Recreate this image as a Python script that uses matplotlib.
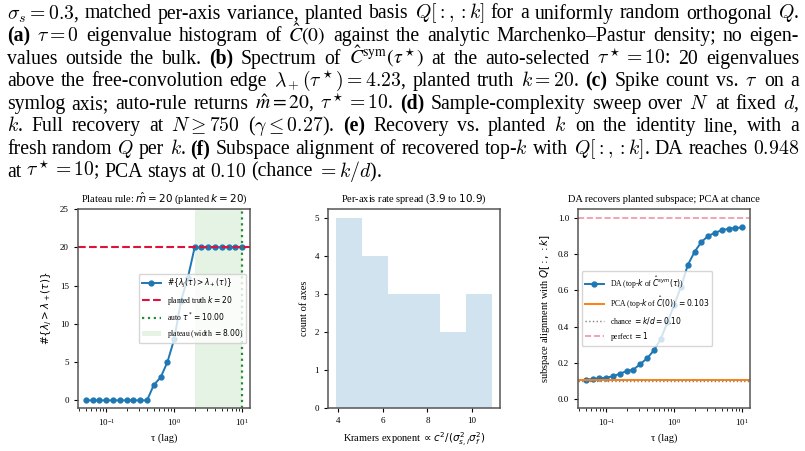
import numpy as np
import matplotlib
matplotlib.use("Agg")
import matplotlib.pyplot as plt

plt.rcParams['font.family'] = 'serif'
plt.rcParams['font.serif'] = ['Liberation Serif', 'DejaVu Serif']
plt.rcParams['axes.edgecolor'] = '#555555'
plt.rcParams['axes.linewidth'] = 1.1
plt.rcParams['xtick.labelsize'] = 6.5
plt.rcParams['ytick.labelsize'] = 6.5
plt.rcParams['xtick.major.size'] = 3
plt.rcParams['ytick.major.size'] = 3

# values
tau = [0.05, 0.063, 0.079, 0.1, 0.126, 0.158, 0.2, 0.251, 0.316, 0.398,
       0.5, 0.631, 0.794, 1.0, 1.259, 1.585, 2.0, 2.512, 3.162, 3.981,
       5.0, 6.31, 7.943, 10.0]
spike_count = [0, 0, 0, 0, 0, 0, 0, 0, 0, 0,
               2, 3, 5, 8, 13, 16, 20, 20, 20, 20,
               20, 20, 20, 20]
k_true = 20
tau_star = 10.0
plateau_lo = 2.0
plateau_hi = 10.0

kramers_edges = [3.9, 5.067, 6.233, 7.4, 8.567, 9.733, 10.9]
kramers_counts = [5, 4, 3, 3, 2, 3]

da_align = [0.107, 0.110, 0.114, 0.118, 0.125, 0.140, 0.154, 0.162, 0.193, 0.224,
            0.268, 0.331, 0.423, 0.52, 0.621, 0.741, 0.814, 0.868, 0.901, 0.919,
            0.932, 0.941, 0.945, 0.948]
pca_align = 0.103
chance = 0.10
perfect = 1.0

caption = [
    r"$\sigma_s=0.3$, matched per-axis variance, planted basis $Q[:,:k]$ for a uniformly random orthogonal $Q$.",
    r"(a) $\tau=0$ eigenvalue histogram of $\hat{C}(0)$ against the analytic Marchenko–Pastur density; no eigen-",
    r"values outside the bulk. (b) Spectrum of $\hat{C}^{\mathrm{sym}}(\tau^\star)$ at the auto-selected $\tau^\star=10$: 20 eigenvalues",
    r"above the free-convolution edge $\lambda_+(\tau^\star)=4.23$, planted truth $k=20$. (c) Spike count vs. $\tau$ on a",
    r"symlog axis; auto-rule returns $\hat{m}=20$, $\tau^\star=10$. (d) Sample-complexity sweep over $N$ at fixed $d$,",
    r"$k$. Full recovery at $N\geq750$ ($\gamma\leq0.27$). (e) Recovery vs. planted $k$ on the identity line, with a",
    r"fresh random $Q$ per $k$. (f) Subspace alignment of recovered top-$k$ with $Q[:,:k]$. DA reaches $0.948$",
    r"at $\tau^\star=10$; PCA stays at $0.10$ (chance $=k/d$).",
]
bold_words = ["(a)", "(b)", "(c)", "(d)", "(e)", "(f)"]

W, H = 805, 451
fig = plt.figure(figsize=(W / 100, H / 100), dpi=100)
renderer = fig.canvas.get_renderer()

# caption, justified like the LaTeX text block
cap_fs = 14.2
x_left, x_right = 7, 799
for i, line in enumerate(caption):
    y = 1 - (18.5 + 22.6 * i) / H
    words = line.split()
    texts = []
    for w in words:
        mfam = 'stix' if r'\hat' in w else 'cm'
        t = fig.text(0, y, w, fontsize=cap_fs, va='baseline', ha='left',
                     family='Liberation Serif', math_fontfamily=mfam,
                     weight='bold' if w in bold_words else 'normal')
        texts.append(t)
    widths = [t.get_window_extent(renderer).width for t in texts]
    if i < len(caption) - 1:
        gap = (x_right - x_left - sum(widths)) / (len(words) - 1)
    else:
        gap = 4.6
    x = x_left
    for t, wd in zip(texts, widths):
        t.set_x(x / W)
        x += wd + gap

lab_fs = 7.5
ax_w = 172 / W
ax_h = 199 / H
ax_b = (H - 408) / H

# (c) spike count vs tau
ax1 = fig.add_axes([78 / W, ax_b, ax_w, ax_h])
ax1.plot(tau, spike_count, 'o-', color='C0', ms=3.5, lw=1.4,
         label=r"$\#\{\lambda_j(\tau) > \lambda_+(\tau)\}$")
ax1.axhline(k_true, color='crimson', ls='--', lw=1.5, label=r"planted truth $k=20$")
ax1.axvline(tau_star, color='#2a8a3a', ls=':', lw=1.6, label=r"auto $\tau^*=10.00$")
ax1.axvspan(plateau_lo, plateau_hi, color='#2ca02c', alpha=0.12, lw=0,
            label=r"plateau (width $=8.00$)")
ax1.set_xscale('log')
ax1.set_ylim(-1, 25)
ax1.set_yticks([0, 5, 10, 15, 20, 25])
ax1.set_xlabel("τ (lag)", fontsize=lab_fs)
ax1.set_ylabel(r"$\#\{\lambda_j > \lambda_+(\tau)\}$", fontsize=lab_fs)
ax1.set_title(r"Plateau rule: $\hat{m}=20$ (planted $k=20$)", fontsize=lab_fs, pad=5)
ax1.legend(loc='center right', fontsize=5.5, handlelength=2.5)

# per-axis rate spread
ax2 = fig.add_axes([328 / W, ax_b, ax_w, ax_h])
ax2.hist(kramers_edges[:-1], bins=kramers_edges, weights=kramers_counts,
         color='C0', alpha=0.2)
ax2.set_xticks([4, 6, 8, 10])
ax2.set_xlabel(r"Kramers exponent $\propto c^2/(\sigma_{s,i}^2\sigma_f^2)$", fontsize=lab_fs)
ax2.set_ylabel("count of axes", fontsize=lab_fs)
ax2.set_title(r"Per-axis rate spread ($3.9$ to $10.9$)", fontsize=lab_fs, pad=5)

# (f) subspace alignment
ax3 = fig.add_axes([578 / W, ax_b, ax_w, ax_h])
ax3.plot(tau, da_align, 'o-', color='C0', ms=3.5, lw=1.4,
         label=r"DA (top-$k$ of $\hat{C}^{sym}(\tau)$)")
ax3.axhline(pca_align, color='C1', lw=1.4, label=r"PCA (top-$k$ of $\hat{C}(0)$) $=0.103$")
ax3.axhline(chance, color='gray', ls=':', lw=1.0, label=r"chance $=k/d=0.10$")
ax3.axhline(perfect, color='crimson', alpha=0.45, ls='--', lw=1.2, label=r"perfect $=1$")
ax3.set_xscale('log')
ax3.set_ylim(-0.05, 1.05)
ax3.set_xlabel("τ (lag)", fontsize=lab_fs)
ax3.set_ylabel(r"subspace alignment with $Q[:,:k]$", fontsize=lab_fs)
ax3.set_title("DA recovers planted subspace; PCA at chance", fontsize=lab_fs, pad=5)
ax3.legend(loc='center left', fontsize=5.5, handlelength=2.5)

fig.savefig('out.png', dpi=100)
